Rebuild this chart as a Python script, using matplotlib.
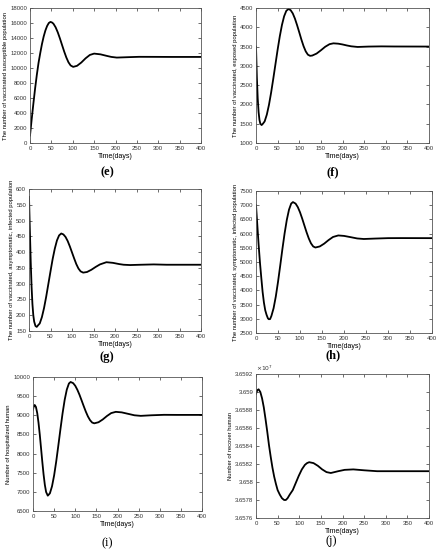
import matplotlib
matplotlib.use('Agg')
import matplotlib.pyplot as plt
import matplotlib.ticker as mt
import numpy as np

plt.rcParams['font.family'] = ['Liberation Sans', 'DejaVu Sans']

# (e) vaccinated susceptible
t_e = [0, 4, 8, 12, 16, 20, 24, 28, 32, 36, 40, 44, 48, 52, 55, 60, 65, 70, 75, 80, 85, 90, 95, 101,
       110, 120, 130, 140, 150, 165, 180, 190, 203, 230, 255, 290, 330, 400]
sus_e = [1000, 3200, 5300, 7300, 9100, 10700, 12000, 13200, 14200, 15000, 15600, 16000, 16150, 16050,
         15890, 15420, 14750, 13940, 13060, 12190, 11400, 10760, 10340, 10150,
         10290, 10730, 11290, 11740, 11920, 11820, 11610, 11480, 11390, 11445, 11490, 11485, 11475, 11475]

# (f) vaccinated exposed
t_f = [0, 2, 4, 6, 8, 10, 13, 16, 20, 25, 30, 35, 40, 45, 50, 55, 60, 65, 70, 75, 80, 85, 90, 95, 100,
       105, 110, 115, 120, 125, 130, 140, 150, 160, 170, 179, 190, 200, 210, 220, 235, 260, 290, 320, 400]
exp_f = [3500, 2700, 2150, 1800, 1600, 1500, 1465, 1500, 1560, 1735, 1990, 2310, 2670, 3045, 3420,
         3765, 4060, 4285, 4425, 4475, 4445, 4360, 4225, 4055, 3870, 3680, 3510, 3375, 3290, 3260,
         3267, 3318, 3403, 3495, 3562, 3584, 3575, 3555, 3529, 3507, 3490, 3500, 3505, 3502, 3500]

# (g) vaccinated asymptomatic infected
t_g = [0, 2, 4, 6, 8, 10, 12, 15, 18, 21, 25, 30, 35, 40, 45, 50, 55, 60, 65, 70, 75, 80, 85, 90, 95,
       100, 105, 110, 115, 120, 126, 135, 145, 155, 165, 180, 195, 210, 220, 235, 260, 290, 320, 400]
asy_g = [575, 470, 370, 290, 235, 200, 180, 166, 163, 168, 174, 194, 223, 259, 299, 339, 378, 411, 437,
         453, 459, 456, 448, 435, 418, 399, 380, 362, 348, 339, 335, 337, 344, 353, 361, 368, 366, 362,
         360, 359, 360, 361, 360, 360]

# (h) vaccinated symptomatic infected
t_h = [0, 3, 6, 9, 12, 15, 18, 21, 24, 27, 29, 32, 35, 40, 45, 50, 55, 60, 65, 70, 75, 80, 84, 90, 95,
       100, 105, 110, 115, 120, 125, 130, 135, 145, 155, 165, 175, 187, 200, 215, 230, 245, 270, 300, 330, 400]
sym_h = [7000, 6300, 5600, 4980, 4450, 3950, 3570, 3300, 3140, 3020, 2985, 2990, 3100, 3374, 3785,
         4297, 4867, 5456, 6007, 6482, 6842, 7058, 7110, 7056, 6933, 6752, 6528, 6285, 6044, 5828, 5656,
         5547, 5510, 5548, 5647, 5773, 5881, 5935, 5919, 5875, 5829, 5810, 5825, 5840, 5842, 5840]

# (i) hospitalized
t_i = [0, 2, 4, 7, 10, 13, 16, 19, 22, 25, 28, 31, 35, 40, 45, 50, 55, 60, 65, 70, 75, 80, 85, 89, 95,
       100, 105, 110, 115, 120, 125, 130, 135, 140, 145, 155, 165, 175, 185, 196, 210, 225, 240, 255,
       280, 310, 340, 400]
hos_i = [9150, 9240, 9270, 9216, 9058, 8810, 8499, 8145, 7789, 7458, 7186, 6997, 6900, 6962, 7145,
         7430, 7797, 8213, 8642, 9052, 9405, 9671, 9830, 9870, 9840, 9771, 9666, 9537, 9390, 9240, 9096,
         8970, 8873, 8810, 8790, 8818, 8890, 8981, 9057, 9090, 9076, 9038, 9000, 8985, 9000, 9012, 9010, 9010]

# (j) recovered, in units of 1e7
t_j = [0, 3, 6, 10, 14, 18, 22, 26, 30, 34, 38, 42, 46, 50, 55, 60, 65, 69, 73, 78, 85, 92, 99, 106,
       113, 118, 123, 133, 143, 153, 163, 173, 190, 205, 225, 250, 280, 320, 400]
rec_j = [3.65898, 3.65902, 3.65903, 3.65900, 3.65893, 3.65883, 3.65870, 3.65856, 3.65841, 3.65828,
         3.65816, 3.65806, 3.65798, 3.65791, 3.65786, 3.65782, 3.65780, 3.65780, 3.65782, 3.65786,
         3.65791, 3.65799, 3.65807, 3.65814, 3.65819, 3.65821, 3.65822, 3.65821, 3.65818, 3.65814,
         3.65811, 3.65810, 3.65812, 3.658135, 3.65814, 3.65813, 3.65812, 3.65812, 3.65812]

W, H = 441, 550
fig = plt.figure(figsize=(W / 100, H / 100), dpi=100)

def add_ax(l, r, top, bot):
    return fig.add_axes([l / W, 1 - bot / H, (r - l) / W, (bot - top) / H])

panels = [
    # x, y, box (l, r, top, bottom), ylim, ystep, ylabel, tag, tag pos, bold
    (t_e, sus_e, (30, 201, 8, 143), (0, 18000), 2000,
     'The number of vaccinated susceptible population', '(e)', (107, 172), True),
    (t_f, exp_f, (256, 429, 8, 143), (1000, 4500), 500,
     'The number of vaccinated, exposed population', '(f)', (333, 172), True),
    (t_g, asy_g, (29, 201, 189, 331), (150, 600), 50,
     'The number of vaccinated, asymptomatic, infected population', '(g)', (107, 357), True),
    (t_h, sym_h, (256, 432, 191, 333), (2500, 7500), 500,
     'The number of vaccinated, symptomatic, infected population', '(h)', (333, 355), True),
    (t_i, hos_i, (33, 202, 377, 511), (6500, 10000), 500,
     'Number of hospitalized human', '(i)', (107, 543), False),
    (t_j, rec_j, (256, 429, 374, 518), (3.6576, 3.6592), 0.0002,
     'Number of recover human', '(j)', (331, 541), False),
]

for x, y, box, ylim, ystep, ylab, tag, tpos, bold in panels:
    ax = add_ax(*box)
    ax.plot(x, y, color='black', lw=1.3)
    ax.set_xlim(0, 400)
    ax.set_ylim(*ylim)
    ax.set_xticks(np.arange(0, 401, 50))
    ax.set_yticks(np.arange(ylim[0], ylim[1] + ystep / 2, ystep))
    ax.yaxis.set_major_formatter(mt.FuncFormatter(lambda v, p: '%g' % round(v, 6)))
    ax.tick_params(direction='in', top=True, right=True, length=2, width=0.5,
                   labelsize=4.3, pad=2, colors='#333333')
    for s in ax.spines.values():
        s.set_linewidth(0.6)
        s.set_color('#555555')
    ax.set_xlabel('Time(days)', fontsize=5, labelpad=1.5)
    ax.set_ylabel(ylab, fontsize=4.2, labelpad=1.5)
    fig.text(tpos[0] / W, 1 - tpos[1] / H, tag, ha='center', va='center',
             fontsize=9, family='Liberation Serif',
             fontweight='bold' if bold else 'normal')
    if tag == '(j)':
        ax.text(0.0, 1.005, r'$\times10^7$', transform=ax.transAxes,
                fontsize=4.3, ha='left', va='bottom', color='#333333')

fig.savefig('out.png', dpi=100)
